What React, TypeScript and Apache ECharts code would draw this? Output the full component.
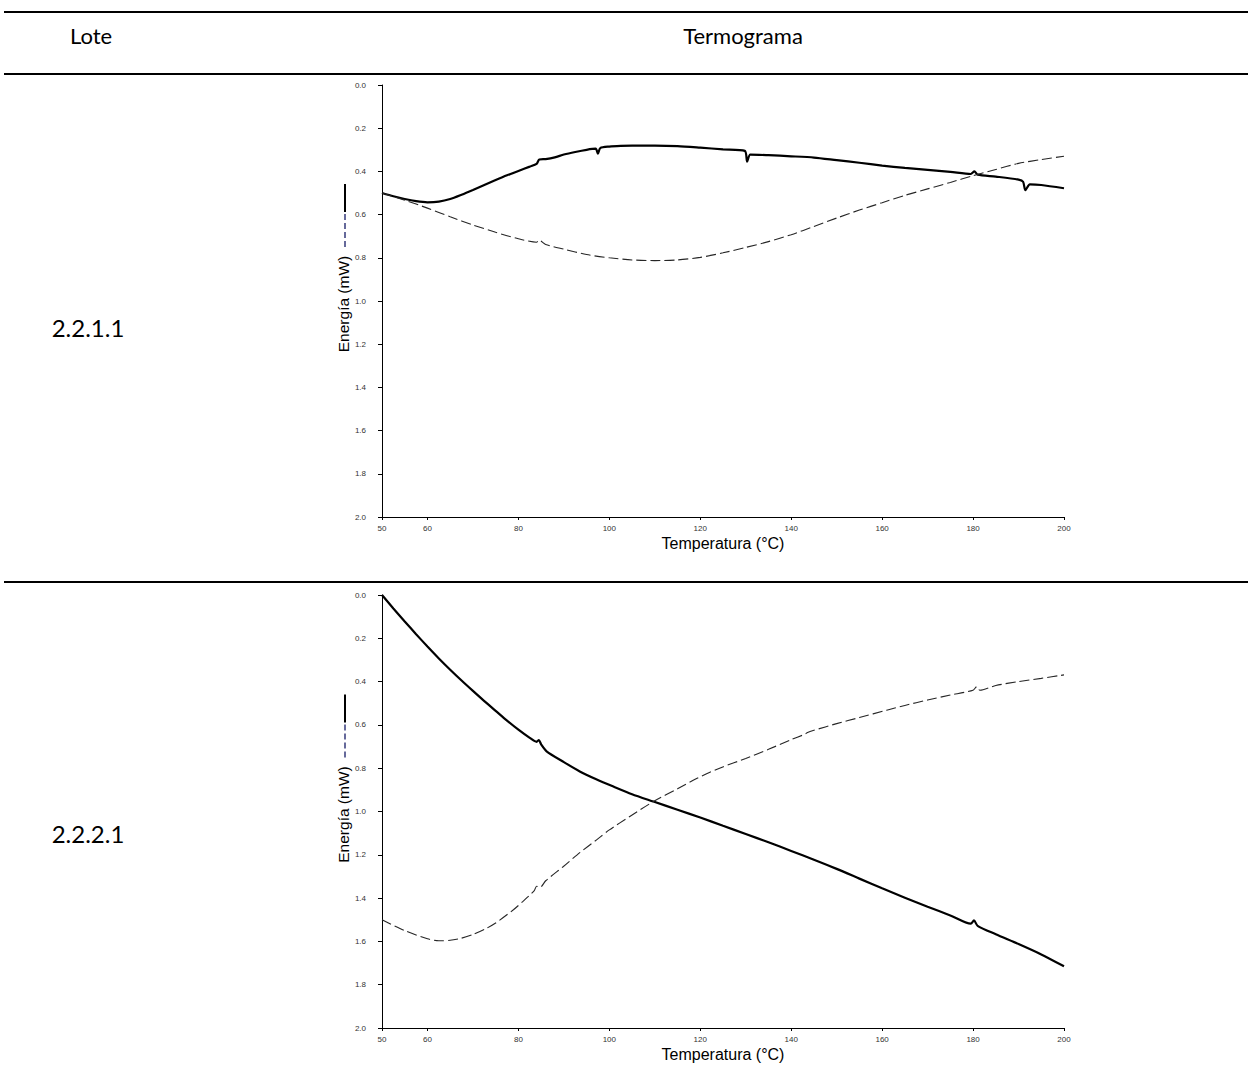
import React, { useEffect, useRef } from "react";
import * as echarts from "echarts";

// Lote 2.2.1.1 — temperature (°C) and energy (mW) for the two traces
const lote1SolidT = [50, 52.5, 55, 57.5, 60, 62.5, 65, 67.5, 70, 72.5, 75, 77.5, 80, 82.5, 84, 84.6, 86, 88, 90, 92.5, 95, 97, 97.5, 98, 100, 102.5, 105, 110, 115, 120, 125, 129.8, 130.3, 131, 135, 140, 145, 150, 155, 160, 165, 170, 175, 179.5, 180.3, 181, 185, 190, 191, 191.5, 192.5, 195, 200];
const lote1SolidE = [0.5, 0.515, 0.528, 0.538, 0.543, 0.54, 0.528, 0.508, 0.486, 0.463, 0.44, 0.418, 0.398, 0.378, 0.365, 0.345, 0.343, 0.335, 0.322, 0.31, 0.3, 0.295, 0.318, 0.292, 0.285, 0.282, 0.281, 0.281, 0.283, 0.29, 0.298, 0.305, 0.355, 0.322, 0.325, 0.33, 0.336, 0.348, 0.36, 0.373, 0.384, 0.393, 0.402, 0.412, 0.4, 0.415, 0.424, 0.438, 0.448, 0.487, 0.46, 0.463, 0.478];
const lote1DashT = [50, 55, 60, 65, 70, 75, 80, 84, 84.5, 86, 90, 95, 100, 105, 110, 115, 120, 125, 130, 135, 140, 145, 150, 155, 160, 165, 170, 175, 180, 185, 190, 195, 200];
const lote1DashE = [0.5, 0.533, 0.57, 0.61, 0.648, 0.682, 0.712, 0.728, 0.718, 0.738, 0.76, 0.785, 0.8, 0.81, 0.813, 0.81, 0.798, 0.777, 0.752, 0.725, 0.693, 0.655, 0.616, 0.579, 0.545, 0.511, 0.481, 0.451, 0.42, 0.391, 0.363, 0.345, 0.33];

// Lote 2.2.2.1
const lote2SolidT = [50, 52.5, 55, 57.5, 60, 62.5, 65, 67.5, 70, 72.5, 75, 77.5, 80, 82.5, 84, 84.5, 85, 86.2, 90, 93.5, 97, 100.9, 105, 109.7, 115, 120, 125, 130, 135, 140, 145, 150, 155, 160, 165, 170, 175, 179.5, 180.2, 181, 185, 190, 195, 200];
const lote2SolidE = [0, 0.062, 0.122, 0.181, 0.238, 0.293, 0.345, 0.395, 0.443, 0.49, 0.535, 0.58, 0.622, 0.66, 0.678, 0.67, 0.69, 0.722, 0.772, 0.815, 0.85, 0.885, 0.92, 0.954, 0.992, 1.028, 1.066, 1.104, 1.142, 1.182, 1.223, 1.265, 1.31, 1.355, 1.398, 1.44, 1.48, 1.518, 1.503, 1.528, 1.567, 1.612, 1.66, 1.715];
const lote2DashT = [50, 55, 60, 62.5, 65, 67.5, 70, 72.5, 75, 78.9, 81, 83.5, 84, 84.8, 86, 89.9, 93.5, 97.2, 100, 104.5, 109.7, 115, 119.2, 122, 125.1, 130, 135, 140, 143, 143.6, 145, 150, 155, 161, 165, 170, 175, 180, 180.8, 181.5, 185, 190, 195, 200];
const lote2DashE = [1.5, 1.55, 1.588, 1.597, 1.595, 1.585, 1.568, 1.545, 1.515, 1.454, 1.415, 1.365, 1.345, 1.35, 1.32, 1.254, 1.19, 1.131, 1.085, 1.023, 0.954, 0.895, 0.848, 0.82, 0.793, 0.755, 0.713, 0.668, 0.643, 0.635, 0.625, 0.594, 0.566, 0.532, 0.51, 0.485, 0.462, 0.44, 0.423, 0.44, 0.418, 0.4, 0.385, 0.369];

// Axis ticks
const tempTicks = [50, 60, 80, 100, 120, 140, 160, 180, 200];
const lotes = ["2.2.1.1", "2.2.2.1"];
const headers = ["Lote", "Termograma"];

const W = 1248;
const H = 1088;
const plotLeft = 382;
const plotWidth = 682;
const grids = [
  { top: 85, height: 432, lotY: 327 },
  { top: 595, height: 433, lotY: 833 },
];

const zip = (xs: number[], ys: number[]) => xs.map((x, i) => [x, ys[i]]);

export default function App() {
  const ref = useRef<HTMLDivElement>(null);

  useEffect(() => {
    document.body.style.margin = "0";
    if (!ref.current) return;
    const chart = echarts.init(ref.current, undefined, { renderer: "svg" });

    const sans = "'Liberation Sans', Arial, sans-serif";
    const tableFont = "Lato, 'Open Sans', sans-serif";

    const xAxes = grids.map((_, i) => ({
      type: "value",
      gridIndex: i,
      min: 50,
      max: 200,
      name: "Temperatura (°C)",
      nameLocation: "middle",
      nameGap: 18,
      nameTextStyle: { fontFamily: sans, fontSize: 16, color: "#000" },
      axisLine: { show: true, onZero: false, lineStyle: { color: "#000", width: 1 } },
      axisTick: { show: true, length: 3, customValues: tempTicks, lineStyle: { color: "#000" } },
      axisLabel: {
        customValues: tempTicks,
        fontFamily: sans,
        fontSize: 8,
        color: "#333",
        margin: 7,
      },
      splitLine: { show: false },
    }));

    const yAxes = grids.map((_, i) => ({
      type: "value",
      gridIndex: i,
      min: 0,
      max: 2,
      interval: 0.2,
      inverse: true,
      axisLine: { show: true, onZero: false, lineStyle: { color: "#000", width: 1 } },
      axisTick: { show: true, length: 4, lineStyle: { color: "#000" } },
      axisLabel: {
        fontFamily: sans,
        fontSize: 8,
        color: "#333",
        margin: 16,
        formatter: (v: number) => v.toFixed(1),
      },
      splitLine: { show: false },
    }));

    const solidStyle = { color: "#000", width: 2.2 };
    const dashStyle = { color: "#262626", width: 1.1, type: [10, 4] };

    const mk = (data: number[][], idx: number, style: any) => ({
      type: "line",
      xAxisIndex: idx,
      yAxisIndex: idx,
      data,
      showSymbol: false,
      symbol: "none",
      smooth: 0.25,
      lineStyle: style,
      silent: true,
    });

    const series = [
      mk(zip(lote1SolidT, lote1SolidE), 0, solidStyle),
      mk(zip(lote1DashT, lote1DashE), 0, dashStyle),
      mk(zip(lote2SolidT, lote2SolidE), 1, solidStyle),
      mk(zip(lote2DashT, lote2DashE), 1, dashStyle),
    ];

    const graphic: any[] = [];
    // table rules
    [12, 74, 582].forEach((y) => {
      graphic.push({
        type: "line",
        shape: { x1: 4, y1: y, x2: W, y2: y },
        style: { stroke: "#000", lineWidth: 2 },
      });
    });
    // header cells
    graphic.push({
      type: "text",
      x: 91,
      y: 35,
      style: { text: headers[0], font: `22px ${tableFont}`, fill: "#000", align: "center", verticalAlign: "middle" },
    });
    graphic.push({
      type: "text",
      x: 743,
      y: 35,
      style: { text: headers[1], font: `22px ${tableFont}`, fill: "#000", align: "center", verticalAlign: "middle" },
    });
    // lot labels + y-axis titles with line keys
    grids.forEach((g, i) => {
      const mid = g.top + g.height / 2;
      graphic.push({
        type: "text",
        x: 88,
        y: g.lotY,
        style: { text: lotes[i], font: `24px ${tableFont}`, fill: "#000", align: "center", verticalAlign: "middle" },
      });
      graphic.push({
        type: "text",
        x: 343,
        y: mid + 3,
        rotation: Math.PI / 2,
        style: { text: "Energía (mW)", font: `15.5px ${sans}`, fill: "#000", align: "center", verticalAlign: "middle" },
      });
      graphic.push({
        type: "line",
        shape: { x1: 345, y1: mid - 117, x2: 345, y2: mid - 89 },
        style: { stroke: "#000", lineWidth: 2 },
      });
      graphic.push({
        type: "line",
        shape: { x1: 345, y1: mid - 87, x2: 345, y2: mid - 53 },
        style: { stroke: "#141a66", lineWidth: 1.3, lineDash: [6, 3] },
      });
    });

    chart.setOption({
      animation: false,
      backgroundColor: "#fff",
      grid: grids.map((g) => ({ left: plotLeft, width: plotWidth, top: g.top, height: g.height, containLabel: false })),
      xAxis: xAxes,
      yAxis: yAxes,
      series,
      graphic,
    });

    return () => chart.dispose();
  }, []);

  return <div ref={ref} style={{ width: W, height: H }} />;
}
